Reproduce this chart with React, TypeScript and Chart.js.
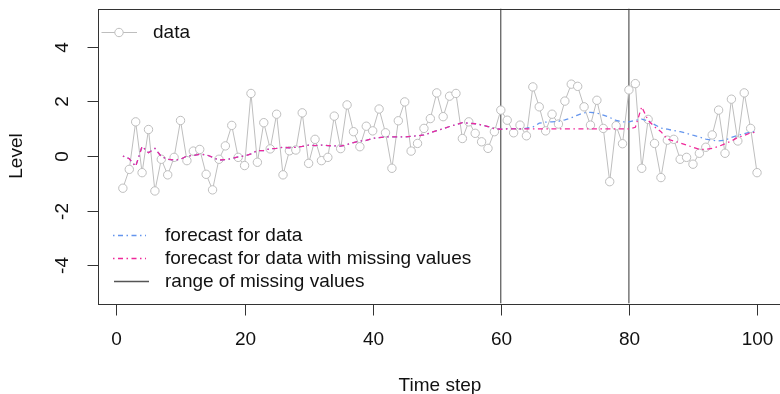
import React, { useEffect, useRef } from 'react';
import { Chart, registerables } from 'chart.js';

Chart.register(...registerables);

const timeSteps: number[] = Array.from({ length: 100 }, (_, i) => i + 1);

const dataValues: number[] = [
  -1.18, -0.49, 1.25, -0.61, 0.97, -1.28, -0.12, -0.69, -0.05, 1.30,
  -0.17, 0.18, 0.24, -0.67, -1.24, -0.12, 0.37, 1.12, -0.05, -0.35,
  2.29, -0.23, 1.22, 0.26, 1.53, -0.69, 0.19, 0.22, 1.58, -0.27,
  0.61, -0.17, -0.05, 1.46, 0.27, 1.87, 0.89, 0.34, 1.09, 0.92,
  1.72, 0.85, -0.45, 1.29, 1.98, 0.18, 0.46, 1.01, 1.37, 2.31,
  1.44, 2.19, 2.29, 0.64, 1.25, 0.83, 0.52, 0.28, 0.89, 1.68,
  1.31, 0.85, 1.13, 0.74, 2.53, 1.80, 0.92, 1.53, 1.17, 2.01,
  2.63, 2.55, 1.80, 1.13, 2.04, 1.01, -0.94, 1.11, 0.45, 2.42,
  2.65, -0.45, 1.34, 0.46, -0.79, 0.58, 0.61, -0.12, -0.05, -0.30,
  0.10, 0.32, 0.77, 1.68, 0.10, 2.08, 0.55, 2.31, 1.01, -0.61,
];

const forecastFull: number[] = [
  0.0, -0.1, -0.38, 0.35, 0.12, 0.28, -0.02, -0.12, -0.15, -0.12,
  0.0, 0.02, 0.06, 0.05, -0.05, -0.15, -0.13, -0.1, -0.03, 0.0,
  0.08, 0.2, 0.2, 0.27, 0.28, 0.32, 0.3, 0.32, 0.35, 0.4,
  0.38, 0.4, 0.38, 0.37, 0.36, 0.42, 0.49, 0.55, 0.57, 0.65,
  0.67, 0.7, 0.7, 0.7, 0.7, 0.72, 0.74, 0.77, 0.85, 0.93,
  1.0, 1.08, 1.15, 1.22, 1.2, 1.18, 1.14, 1.08, 1.0, 0.98,
  1.0, 1.0, 1.0, 1.02, 1.06, 1.2, 1.24, 1.25, 1.27, 1.32,
  1.4, 1.5, 1.58, 1.6, 1.57, 1.5, 1.41, 1.3, 1.25, 1.25,
  1.31, 1.35, 1.28, 1.15, 1.02, 0.98, 0.93, 0.89, 0.83, 0.76,
  0.7, 0.62, 0.58, 0.55, 0.58, 0.68, 0.75, 0.82, 0.88, 0.9,
];

const forecastMissing: number[] = [
  0.0, -0.1, -0.38, 0.35, 0.12, 0.28, -0.02, -0.12, -0.15, -0.12,
  0.0, 0.02, 0.06, 0.05, -0.05, -0.15, -0.13, -0.1, -0.03, 0.0,
  0.08, 0.2, 0.2, 0.27, 0.28, 0.32, 0.3, 0.32, 0.35, 0.4,
  0.38, 0.4, 0.38, 0.37, 0.36, 0.42, 0.49, 0.55, 0.57, 0.65,
  0.67, 0.7, 0.7, 0.7, 0.7, 0.72, 0.74, 0.77, 0.85, 0.93,
  1.0, 1.08, 1.15, 1.22, 1.2, 1.18, 1.14, 1.08, 1.0, 0.98,
  0.99, 0.99, 0.99, 0.99, 0.99, 0.99, 0.99, 0.99, 0.99, 0.99,
  0.99, 0.99, 0.99, 0.99, 0.99, 0.99, 0.99, 0.99, 0.99, 0.99,
  1.05, 1.8, 1.3, 1.07, 0.89, 0.62, 0.55, 0.48, 0.4, 0.32,
  0.24, 0.24, 0.28, 0.35, 0.45, 0.55, 0.68, 0.75, 0.85, 0.87,
];

const missingRange: number[] = [60, 80];
const xTicks: number[] = [0, 20, 40, 60, 80, 100];
const yTicks: number[] = [-4, -2, 0, 2, 4];
const xLimits: number[] = [-2.96, 103.96];
const yLimits: number[] = [-5.4, 5.4];

const legendTop: string[] = ['data'];
const legendBottom: string[] = [
  'forecast for data',
  'forecast for data with missing values',
  'range of missing values',
];

const GREY = '#bebebe';
const BLUE = '#6495ed';
const PINK = '#f0289a';
const VLINE = '#333333';
const FONT = '19px "Liberation Sans", Arial, sans-serif';
const DASH = [1.5, 3.5, 5, 3.5];
const CANVAS_W = 800;
const CANVAS_H = 394;

export default function App() {
  const ref = useRef<HTMLCanvasElement>(null);

  useEffect(() => {
    const canvas = ref.current;
    if (!canvas) return;
    const pts = (vals: number[]) => timeSteps.map((t, i) => ({ x: t, y: vals[i] }));

    const rPlugin = {
      id: 'rStyle',
      afterDraw(chart: any) {
        const ctx = chart.ctx as CanvasRenderingContext2D;
        const a = chart.chartArea;
        const xs = chart.scales.x;
        const ys = chart.scales.y;
        ctx.save();
        // box
        ctx.strokeStyle = '#333';
        ctx.lineWidth = 1;
        ctx.strokeRect(Math.round(a.left) + 0.5, Math.round(a.top) + 0.5, a.right - a.left, Math.round(a.bottom - a.top));
        ctx.fillStyle = '#111';
        ctx.font = FONT;
        // x ticks
        ctx.textAlign = 'center';
        ctx.textBaseline = 'middle';
        const bottom = Math.round(a.bottom) + 0.5;
        xTicks.forEach((v) => {
          const px = Math.round(xs.getPixelForValue(v)) + 0.5;
          ctx.beginPath();
          ctx.moveTo(px, bottom);
          ctx.lineTo(px, bottom + 11);
          ctx.stroke();
          ctx.fillText(String(v), px, 340);
        });
        // y ticks
        const left = Math.round(a.left) + 0.5;
        yTicks.forEach((v) => {
          const py = Math.round(ys.getPixelForValue(v)) + 0.5;
          ctx.beginPath();
          ctx.moveTo(left - 11, py);
          ctx.lineTo(left, py);
          ctx.stroke();
          ctx.save();
          ctx.translate(63, py);
          ctx.rotate(-Math.PI / 2);
          ctx.fillText(String(v), 0, 0);
          ctx.restore();
        });
        // axis titles
        ctx.fillText('Time step', (a.left + a.right) / 2, 386);
        ctx.save();
        ctx.translate(17, (a.top + a.bottom) / 2);
        ctx.rotate(-Math.PI / 2);
        ctx.fillText('Level', 0, 0);
        ctx.restore();

        // top legend
        ctx.textAlign = 'left';
        ctx.strokeStyle = GREY;
        ctx.beginPath();
        ctx.moveTo(101.5, 32.5);
        ctx.lineTo(137, 32.5);
        ctx.stroke();
        ctx.beginPath();
        ctx.arc(119, 32.5, 4.2, 0, Math.PI * 2);
        ctx.fillStyle = '#fff';
        ctx.fill();
        ctx.stroke();
        ctx.fillStyle = '#111';
        ctx.fillText(legendTop[0], 153, 32.5);

        // bottom legend
        const rows = [235.5, 258.5, 281.5];
        const styles = [
          { c: BLUE, d: DASH, w: 1.3, x0: 113, x1: 146 },
          { c: PINK, d: DASH, w: 1.3, x0: 113, x1: 146 },
          { c: '#555', d: [] as number[], w: 1.5, x0: 114, x1: 149 },
        ];
        legendBottom.forEach((label, i) => {
          const s = styles[i];
          ctx.save();
          ctx.strokeStyle = s.c;
          ctx.lineWidth = s.w;
          ctx.setLineDash(s.d);
          ctx.beginPath();
          ctx.moveTo(s.x0, rows[i]);
          ctx.lineTo(s.x1, rows[i]);
          ctx.stroke();
          ctx.restore();
          ctx.fillText(label, 165, rows[i]);
        });
        ctx.restore();
      },
    };

    const chart = new Chart(canvas, {
      type: 'scatter',
      data: {
        datasets: [
          {
            label: 'forecast for data with missing values',
            data: pts(forecastMissing),
            showLine: true,
            borderColor: PINK,
            borderWidth: 1.3,
            borderDash: DASH,
            pointRadius: 0,
            tension: 0,
          },
          {
            label: 'forecast for data',
            data: pts(forecastFull),
            showLine: true,
            borderColor: BLUE,
            borderWidth: 1.3,
            borderDash: DASH,
            pointRadius: 0,
            tension: 0,
          },
          {
            label: 'data',
            data: pts(dataValues),
            showLine: true,
            borderColor: GREY,
            borderWidth: 1,
            pointRadius: 4.2,
            pointBorderWidth: 1,
            pointBorderColor: GREY,
            pointBackgroundColor: '#ffffff',
            tension: 0,
          },
          ...missingRange.map((m) => ({
            label: 'range of missing values',
            data: [
              { x: m, y: yLimits[0] },
              { x: m, y: yLimits[1] },
            ],
            showLine: true,
            borderColor: VLINE,
            borderWidth: 1,
            pointRadius: 0,
          })),
        ],
      },
      options: {
        responsive: false,
        animation: false,
        devicePixelRatio: 1,
        events: [],
        layout: {
          padding: { left: 97.5, top: 8.5, right: CANVAS_W - 782.4, bottom: CANVAS_H - 303.5 },
        },
        plugins: { legend: { display: false }, tooltip: { enabled: false } },
        scales: {
          x: { type: 'linear', min: xLimits[0], max: xLimits[1], display: false },
          y: { type: 'linear', min: yLimits[0], max: yLimits[1], display: false },
        },
      },
      plugins: [rPlugin],
    } as any);
    return () => chart.destroy();
  }, []);

  return (
    <div
      style={{
        position: 'absolute',
        left: 0,
        top: 0,
        width: 780,
        height: 394,
        overflow: 'hidden',
        background: '#fff',
      }}
    >
      <canvas ref={ref} width={CANVAS_W} height={CANVAS_H} style={{ display: 'block' }} />
    </div>
  );
}
